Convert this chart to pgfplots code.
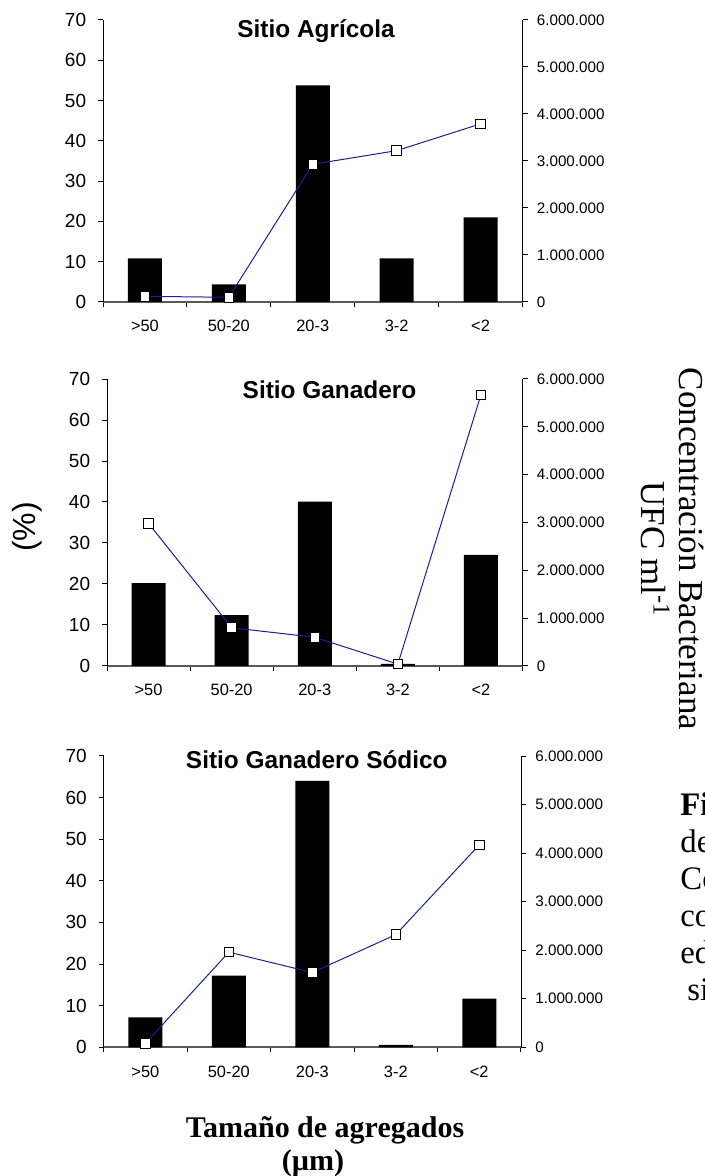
\documentclass[border=0pt]{standalone}
\usepackage{fontspec}
\setmainfont{Liberation Sans}
\newfontfamily\tnr{Liberation Serif}
\usepackage{pgfplots}
\pgfplotsset{compat=1.18}
\definecolor{navyline}{RGB}{30,30,150}
\pgfplotsset{
  panelL/.style={
    scale only axis, clip=false,
    xmin=-0.5, xmax=4.5, ymin=0, ymax=70,
    axis y line*=left, axis x line*=bottom,
    xtick={-0.5,0.5,1.5,2.5,3.5,4.5}, xticklabels={},
    extra x ticks={0,1,2,3,4},
    extra x tick labels={>50,50-20,20-3,3-2,<2},
    extra x tick style={major tick length=0pt},
    ytick={0,10,20,30,40,50,60,70},
    tick align=outside, major tick length=2.5pt,
    tick style={black, line width=0.5pt},
    y axis line style={black, line width=0.5pt},
    x axis line style={black!65, line width=0.8pt},
    yticklabel style={font=\fontsize{9.5}{11}\selectfont, inner sep=0pt, anchor=east, xshift=-5.75pt},
    xticklabel style={font=\fontsize{8.2}{10}\selectfont, inner sep=0pt, anchor=north, yshift=-9pt},
    /pgf/number format/assume math mode=true,
  },
  panelR/.style={
    scale only axis, clip=false,
    xmin=-0.5, xmax=4.5, ymin=0, ymax=6000000,
    axis y line*=right, axis x line=none,
    ytick={0,1000000,2000000,3000000,4000000,5000000,6000000},
    scaled y ticks=false,
    tick align=outside, major tick length=2.5pt,
    tick style={black, line width=0.5pt},
    y axis line style={black, line width=0.5pt},
    yticklabel style={font=\fontsize{7.6}{9}\selectfont, inner sep=0pt, anchor=west, xshift=4.5pt,
      /pgf/number format/.cd, fixed, precision=0, 1000 sep={.}, assume math mode=true},
  },
  bars/.style={ybar, bar width=17pt, fill=black, draw=none},
  conc/.style={navyline, line width=0.5pt, mark=square*, mark size=2.4pt,
    mark options={fill=white, draw=black, line width=0.45pt, solid}},
}
\begin{document}
\begin{tikzpicture}
\path[use as bounding box] (0,0) rectangle (352.5pt,588pt);
% ---------- Panel 1 ----------
\begin{axis}[panelL, at={(51.5pt,437pt)}, anchor=south west, width=209.75pt, height=141pt]
\addplot[bars] coordinates {(0,10.8) (1,4.4) (2,53.8) (3,10.8) (4,21.0)};
\end{axis}
\begin{axis}[panelR, at={(51.5pt,437pt)}, anchor=south west, width=209.75pt, height=141pt]
\addplot[conc] coordinates {(0,120000) (1,100000) (2,2930000) (3,3220000) (4,3790000)};
\end{axis}
% ---------- Panel 2 ----------
\begin{axis}[panelL, at={(53.5pt,255pt)}, anchor=south west, width=207.75pt, height=143.5pt]
\addplot[bars] coordinates {(0,20.2) (1,12.4) (2,40.1) (3,0.5) (4,27.1)};
\end{axis}
\begin{axis}[panelR, at={(53.5pt,255pt)}, anchor=south west, width=207.75pt, height=143.5pt]
\addplot[conc] coordinates {(0,2980000) (1,800000) (2,600000) (3,40000) (4,5670000)};
\end{axis}
% ---------- Panel 3 ----------
\begin{axis}[panelL, at={(51.8pt,64.35pt)}, anchor=south west, width=208.7pt, height=145.65pt]
\addplot[bars] coordinates {(0,7.2) (1,17.2) (2,64.0) (3,0.6) (4,11.7)};
\end{axis}
\begin{axis}[panelR, at={(51.8pt,64.35pt)}, anchor=south west, width=208.7pt, height=145.65pt]
\addplot[conc] coordinates {(0,80000) (1,1960000) (2,1540000) (3,2320000) (4,4170000)};
\end{axis}
% ---------- titles ----------
\node[anchor=base, font=\fontsize{12.2}{14}\selectfont\bfseries] at (158pt,569pt) {Sitio Agrícola};
\node[anchor=base, font=\fontsize{12.2}{14}\selectfont\bfseries] at (164.75pt,388.5pt) {Sitio Ganadero};
\node[anchor=base, font=\fontsize{12.2}{14}\selectfont\bfseries] at (158.4pt,203.5pt) {Sitio Ganadero Sódico};
% ---------- axis labels ----------
\node[rotate=90, font=\fontsize{16}{18}\selectfont] at (13.75pt,324.5pt) {(\%)};
\node[rotate=-90, anchor=base, font=\tnr\fontsize{17.5}{19}\selectfont] at (339.5pt,313.5pt) {Concentración Bacteriana};
\node[rotate=-90, anchor=base, font=\tnr\fontsize{17.5}{19}\selectfont] at (320.5pt,313.5pt) {UFC ml\textsuperscript{-1}};
\node[anchor=base, font=\tnr\fontsize{15}{17}\selectfont\bfseries] at (162.5pt,19pt) {Tamaño de agregados};
\node[anchor=base, font=\tnr\fontsize{15}{17}\selectfont\bfseries] at (156.5pt,2.5pt) {(µm)};
% ---------- clipped caption fragments ----------
\node[anchor=base west, inner sep=0pt, font=\tnr\fontsize{16.4}{18}\selectfont\bfseries] at (340pt,180pt) {Fi};
\node[anchor=base west, inner sep=0pt, font=\tnr\fontsize{16.4}{18}\selectfont] at (340pt,161.5pt) {de};
\node[anchor=base west, inner sep=0pt, font=\tnr\fontsize{16.4}{18}\selectfont] at (340pt,143pt) {Co};
\node[anchor=base west, inner sep=0pt, font=\tnr\fontsize{16.4}{18}\selectfont] at (340pt,124.5pt) {co};
\node[anchor=base west, inner sep=0pt, font=\tnr\fontsize{16.4}{18}\selectfont] at (340pt,106pt) {ed};
\node[anchor=base west, inner sep=0pt, font=\tnr\fontsize{16.4}{18}\selectfont] at (343.5pt,87.5pt) {si};
\end{tikzpicture}
\end{document}
